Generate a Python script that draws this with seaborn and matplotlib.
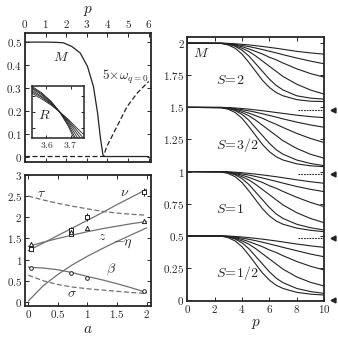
import numpy as np
import pandas as pd
import seaborn as sns
import matplotlib
matplotlib.use("Agg")
import matplotlib.pyplot as plt
from matplotlib.ticker import FuncFormatter, MultipleLocator

# ---- top left panel: M and 5*omega vs p ----
p_m = [0, 1.0, 1.5, 1.86, 2.27, 2.68, 3.03, 3.32, 3.52, 3.65, 3.78, 3.85, 6.0]
m_top = [0.5, 0.5, 0.499, 0.497, 0.481, 0.452, 0.394, 0.306, 0.19, 0.087, 0.007, 0.0, 0.0]
p_w = [0, 3.8, 3.97, 4.46, 4.95, 5.44, 6.0]
w_top = [0, 0, 0.044, 0.131, 0.218, 0.277, 0.328]

# inset: R vs p for several sizes
p_r = [3.54, 3.58, 3.62, 3.655, 3.69, 3.72, 3.756]
r_curves = [
    [0.86, 0.75, 0.63, 0.50, 0.36, 0.22, 0.06],
    [0.89, 0.78, 0.645, 0.50, 0.34, 0.18, -0.02],
    [0.92, 0.80, 0.66, 0.50, 0.32, 0.13, -0.1],
    [0.95, 0.83, 0.675, 0.50, 0.29, 0.07, -0.2],
    [0.97, 0.85, 0.69, 0.50, 0.26, 0.0, -0.3],
    [0.99, 0.87, 0.70, 0.50, 0.23, -0.06, -0.4],
]

# ---- bottom left panel: exponents vs a ----
a_line = [0, 0.25, 0.5, 0.75, 1.0, 1.25, 1.5, 1.75, 2.0]
tau = [2.5, 2.41, 2.33, 2.26, 2.2, 2.14, 2.1, 2.07, 2.05]
nu = [1.21, 1.39, 1.57, 1.75, 1.93, 2.11, 2.3, 2.48, 2.66]
z_line = [1.31, 1.41, 1.5, 1.58, 1.66, 1.73, 1.79, 1.85, 1.9]
eta = [0.02, 0.38, 0.65, 0.88, 1.08, 1.26, 1.43, 1.59, 1.75]
beta = [0.82, 0.8, 0.76, 0.69, 0.6, 0.52, 0.43, 0.33, 0.22]
sigma = [0.63, 0.5, 0.41, 0.35, 0.31, 0.28, 0.25, 0.22, 0.2]

a_pts = [0.05, 0.72, 1.0, 1.95]
nu_pts = [1.25, 1.71, 2.0, 2.6]
nu_err = [0.03, 0.05, 0.09, 0.09]
z_pts = [1.37, 1.65, 1.74, 1.91]
beta_pts = [0.8, 0.68, 0.56, 0.25]
a_sq2 = [0.05, 0.72]
z_sq2 = [1.24, 1.6]

# ---- right panel: M vs p for S = 2, 3/2, 1, 1/2 ----
p_grid = [0, 2.5, 3, 3.5, 4, 4.5, 5, 5.5, 6, 6.5, 7, 8, 9, 10]
m_s2 = [
    [2, 1.997, 1.985, 1.96, 1.915, 1.85, 1.78, 1.71, 1.655, 1.615, 1.59, 1.56, 1.548, 1.545],
    [2, 1.998, 1.992, 1.975, 1.945, 1.9, 1.84, 1.78, 1.72, 1.67, 1.635, 1.59, 1.572, 1.564],
    [2, 1.998, 1.992, 1.98, 1.96, 1.935, 1.9, 1.86, 1.82, 1.78, 1.74, 1.68, 1.635, 1.603],
    [2, 1.999, 1.994, 1.985, 1.972, 1.955, 1.935, 1.915, 1.89, 1.87, 1.845, 1.8, 1.763, 1.735],
    [2, 1.999, 1.996, 1.99, 1.982, 1.973, 1.962, 1.95, 1.937, 1.924, 1.91, 1.884, 1.86, 1.839],
    [2, 2, 1.998, 1.995, 1.991, 1.986, 1.98, 1.974, 1.967, 1.96, 1.952, 1.936, 1.924, 1.914],
]
m_s32 = [
    [1.5, 1.497, 1.485, 1.46, 1.415, 1.35, 1.28, 1.21, 1.155, 1.115, 1.09, 1.06, 1.045, 1.038],
    [1.5, 1.498, 1.492, 1.475, 1.445, 1.4, 1.34, 1.28, 1.22, 1.17, 1.135, 1.09, 1.063, 1.046],
    [1.5, 1.498, 1.492, 1.48, 1.46, 1.435, 1.4, 1.36, 1.32, 1.28, 1.24, 1.18, 1.135, 1.104],
    [1.5, 1.499, 1.494, 1.485, 1.472, 1.455, 1.435, 1.415, 1.39, 1.368, 1.343, 1.297, 1.258, 1.226],
    [1.5, 1.499, 1.496, 1.49, 1.482, 1.473, 1.462, 1.45, 1.437, 1.424, 1.41, 1.385, 1.363, 1.345],
    [1.5, 1.5, 1.498, 1.495, 1.491, 1.486, 1.48, 1.474, 1.467, 1.46, 1.453, 1.439, 1.428, 1.42],
]
m_s1 = [
    [1, 0.997, 0.985, 0.96, 0.915, 0.85, 0.78, 0.71, 0.655, 0.615, 0.59, 0.56, 0.543, 0.532],
    [1, 0.998, 0.992, 0.975, 0.945, 0.9, 0.84, 0.78, 0.72, 0.67, 0.635, 0.59, 0.563, 0.545],
    [1, 0.998, 0.992, 0.98, 0.96, 0.935, 0.9, 0.86, 0.82, 0.78, 0.74, 0.68, 0.635, 0.602],
    [1, 0.999, 0.994, 0.985, 0.972, 0.955, 0.935, 0.915, 0.89, 0.87, 0.845, 0.8, 0.76, 0.727],
    [1, 0.999, 0.996, 0.99, 0.982, 0.973, 0.962, 0.95, 0.937, 0.924, 0.91, 0.884, 0.862, 0.844],
    [1, 1, 0.998, 0.995, 0.991, 0.986, 0.98, 0.974, 0.967, 0.96, 0.952, 0.936, 0.921, 0.909],
]
m_s12 = [
    [0.5, 0.497, 0.485, 0.46, 0.415, 0.35, 0.28, 0.21, 0.155, 0.115, 0.09, 0.06, 0.046, 0.039],
    [0.5, 0.498, 0.492, 0.475, 0.445, 0.4, 0.34, 0.28, 0.22, 0.17, 0.135, 0.09, 0.066, 0.052],
    [0.5, 0.498, 0.492, 0.48, 0.46, 0.435, 0.4, 0.36, 0.32, 0.28, 0.24, 0.18, 0.138, 0.109],
    [0.5, 0.499, 0.494, 0.485, 0.472, 0.455, 0.435, 0.415, 0.39, 0.37, 0.345, 0.3, 0.263, 0.234],
    [0.5, 0.499, 0.496, 0.49, 0.482, 0.473, 0.462, 0.45, 0.437, 0.424, 0.41, 0.384, 0.358, 0.337],
    [0.5, 0.5, 0.498, 0.495, 0.491, 0.486, 0.48, 0.474, 0.467, 0.46, 0.452, 0.436, 0.422, 0.41],
]
s_labels = ["$S\\!=\\!2$", "$S\\!=\\!3/2$", "$S\\!=\\!1$", "$S\\!=\\!1/2$"]
s_label_y = [1.71, 1.21, 0.71, 0.21]
arrow_levels = [1.48, 0.98, 0.48, 0.0]


def long_df(x, curves):
    rows = []
    for i, c in enumerate(curves):
        for xv, yv in zip(x, c):
            rows.append({"x": xv, "y": yv, "curve": i})
    return pd.DataFrame(rows)


sns.set_theme(style="ticks", rc={
    "xtick.direction": "in", "ytick.direction": "in",
    "xtick.top": True, "ytick.right": True,
    "xtick.major.size": 3, "ytick.major.size": 3,
    "xtick.major.width": 0.7, "ytick.major.width": 0.7,
    "axes.linewidth": 1.3, "xtick.labelsize": 8, "ytick.labelsize": 8,
    "mathtext.fontset": "cm",
})
plt.rcParams["font.family"] = ["DejaVu Serif"]

fmt = FuncFormatter(lambda v, pos: "$%s$" % ("%g" % round(v, 3)))
dark = "#222222"
grey = "#707070"

fig = plt.figure(figsize=(3.38, 3.38), dpi=100)
ax_t = fig.add_axes([0.074, 0.520, 0.372, 0.3825])
ax_b = fig.add_axes([0.074, 0.0956, 0.372, 0.3867])
ax_r = fig.add_axes([0.554, 0.1104, 0.405, 0.781])
ax_in = fig.add_axes([0.0947, 0.5917, 0.154, 0.154])

# top left
sns.lineplot(x=p_m, y=m_top, ax=ax_t, color=dark, lw=0.9, sort=False, estimator=None)
sns.lineplot(x=p_w, y=w_top, ax=ax_t, color=dark, lw=0.9, sort=False, estimator=None,
             linestyle=(0, (4, 2)))
ax_t.set_xlim(0, 6.1)
ax_t.set_ylim(-0.025, 0.54)
ax_t.xaxis.set_major_locator(MultipleLocator(1))
ax_t.yaxis.set_major_locator(MultipleLocator(0.1))
ax_t.xaxis.set_major_formatter(fmt)
ax_t.yaxis.set_major_formatter(fmt)
ax_t.tick_params(labeltop=True, labelbottom=False, pad=2)
ax_t.xaxis.set_label_position("top")
ax_t.set_xlabel("$p$", fontsize=11, labelpad=3.5)
ax_t.set_ylabel("")
ax_t.text(1.78, 0.437, "$M$", fontsize=10, ha="center", va="center")
ax_t.text(6.0, 0.35, "$5\\!\\times\\!\\omega_{q=0}$", fontsize=9.5, ha="right", va="center")

# inset
sns.lineplot(data=long_df(p_r, r_curves), x="x", y="y", units="curve", estimator=None,
             ax=ax_in, color=dark, lw=0.6, sort=False, legend=False)
ax_in.set_xlim(3.54, 3.756)
ax_in.set_ylim(0, 1)
ax_in.set_xticks([3.6, 3.7])
ax_in.set_yticks([0.2, 0.5, 0.8])
ax_in.set_yticklabels([])
ax_in.xaxis.set_major_formatter(fmt)
ax_in.tick_params(labelsize=7, pad=1.5, length=2.5)
for s in ax_in.spines.values():
    s.set_linewidth(1.1)
ax_in.set_xlabel("")
ax_in.set_ylabel("")
ax_in.text(3.59, 0.45, "$R$", fontsize=10, ha="center", va="center")

# bottom left
for ys, ls in [(tau, (0, (4, 2))), (nu, "-"), (z_line, "-"), (eta, "-"), (beta, "-"),
               (sigma, (0, (4, 2)))]:
    sns.lineplot(x=a_line, y=ys, ax=ax_b, color=grey, lw=0.9, linestyle=ls,
                 sort=False, estimator=None)
ax_b.errorbar(a_pts, nu_pts, yerr=nu_err, fmt="none", ecolor=dark, elinewidth=0.7, capsize=0)
sns.scatterplot(x=a_pts, y=nu_pts, ax=ax_b, marker="s", s=7, color="white",
                edgecolor=dark, linewidth=0.7, zorder=5)
sns.scatterplot(x=a_sq2, y=z_sq2, ax=ax_b, marker="s", s=7, color="white",
                edgecolor=dark, linewidth=0.7, zorder=5)
sns.scatterplot(x=a_pts, y=z_pts, ax=ax_b, marker="^", s=9, color="white",
                edgecolor=dark, linewidth=0.7, zorder=5)
sns.scatterplot(x=a_pts, y=beta_pts, ax=ax_b, marker="o", s=7, color="white",
                edgecolor=dark, linewidth=0.7, zorder=5)
ax_b.set_xlim(-0.056, 2.07)
ax_b.set_ylim(-0.09, 3.0)
ax_b.xaxis.set_major_locator(MultipleLocator(0.5))
ax_b.yaxis.set_major_locator(MultipleLocator(0.5))
ax_b.xaxis.set_major_formatter(fmt)
ax_b.yaxis.set_major_formatter(fmt)
ax_b.tick_params(pad=2)
ax_b.set_xlabel("$a$", fontsize=11, labelpad=1)
ax_b.set_ylabel("")
for txt, xx, yy in [("$\\tau$", 0.22, 2.58), ("$\\nu$", 1.63, 2.6), ("$z$", 1.25, 1.55),
                    ("$-\\eta$", 1.6, 1.4), ("$\\beta$", 1.4, 0.77), ("$\\sigma$", 0.73, 0.2)]:
    ax_b.text(xx, yy, txt, fontsize=10, ha="center", va="center")

# right panel
for grp in [m_s2, m_s32, m_s1, m_s12]:
    sns.lineplot(data=long_df(p_grid, grp), x="x", y="y", units="curve", estimator=None,
                 ax=ax_r, color=dark, lw=0.8, sort=False, legend=False)
for lev in arrow_levels[:3]:
    sns.lineplot(x=[8.1, 9.95], y=[lev, lev], ax=ax_r, color=dark, lw=0.8,
                 linestyle=(0, (1.5, 1)), estimator=None)
ax_r.plot([10.62] * len(arrow_levels), arrow_levels, marker="<", ls="none", ms=3.5,
          color=dark, clip_on=False)
ax_r.set_xlim(0, 10)
ax_r.set_ylim(-0.005, 2.05)
ax_r.xaxis.set_major_locator(MultipleLocator(2))
ax_r.yaxis.set_major_locator(MultipleLocator(0.25))
ax_r.xaxis.set_major_formatter(fmt)
ax_r.yaxis.set_major_formatter(fmt)
ax_r.tick_params(pad=2)
ax_r.set_xlabel("$p$", fontsize=11, labelpad=1)
ax_r.set_ylabel("")
ax_r.text(1.0, 1.92, "$M$", fontsize=10, ha="center", va="center")
for lab, yy in zip(s_labels, s_label_y):
    ax_r.text(2.1, yy, lab, fontsize=10, ha="left", va="center")

fig.savefig("out.png", dpi=100)
